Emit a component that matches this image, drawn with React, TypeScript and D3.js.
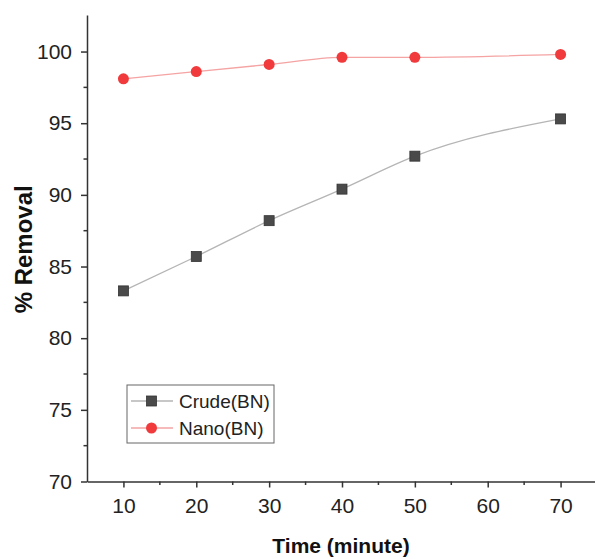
import * as d3 from "d3";
import React, {useEffect, useRef} from "react";

const times = [10, 20, 30, 40, 50, 70];
const crude = [83.3, 85.7, 88.2, 90.4, 92.7, 95.3];
const nano = [98.1, 98.6, 99.1, 99.6, 99.6, 99.8];
const xTicks = [10, 20, 30, 40, 50, 60, 70];
const yTicks = [70, 75, 80, 85, 90, 95, 100];

const App: React.FC = () => {
  const svgRef = useRef<SVGSVGElement | null>(null);

  useEffect(() => {
    if (!svgRef.current) {
      return
    }
    document.body.style.margin = '0';
    const svg = d3.select(svgRef.current);
    svg.selectAll('*').remove();

    const font = 'Liberation Sans, Arial, sans-serif';
    const axisColor = '#333';

    const x = d3.scaleLinear().domain([5, 75]).range([87, 597]);
    const y = d3.scaleLinear().domain([70, 102.55]).range([481.5, 15]);

    // axes
    const xAxis = svg.append('g')
      .attr('transform', `translate(0,${y(70)})`)
      .call(d3.axisBottom(x).tickValues(xTicks).tickSize(6).tickSizeOuter(0).tickPadding(11));
    xAxis.select('.domain').attr('stroke', axisColor).attr('stroke-width', 1.5);
    xAxis.selectAll('.tick line').attr('stroke', axisColor).attr('stroke-width', 1.5);
    xAxis.selectAll('.tick text').attr('font-family', font).attr('font-size', 21).attr('fill', '#222');
    xAxis.selectAll('.minor')
      .data(d3.range(15, 75, 10))
      .enter().append('line')
      .attr('x1', d => x(d)).attr('x2', d => x(d))
      .attr('y1', 0).attr('y2', 3.5)
      .attr('stroke', axisColor).attr('stroke-width', 1.5);

    const yAxis = svg.append('g')
      .attr('transform', `translate(${x(5)},0)`)
      .call(d3.axisLeft(y).tickValues(yTicks).tickSize(6).tickSizeOuter(0).tickPadding(9));
    yAxis.select('.domain').attr('stroke', axisColor).attr('stroke-width', 1.5);
    yAxis.selectAll('.tick line').attr('stroke', axisColor).attr('stroke-width', 1.5);
    yAxis.selectAll('.tick text').attr('font-family', font).attr('font-size', 21).attr('fill', '#222');
    yAxis.selectAll('.minor')
      .data(d3.range(72.5, 102.5, 5))
      .enter().append('line')
      .attr('x1', 0).attr('x2', -3.5)
      .attr('y1', d => y(d)).attr('y2', d => y(d))
      .attr('stroke', axisColor).attr('stroke-width', 1.5);

    // axis titles
    svg.append('text')
      .attr('x', 341).attr('y', 553)
      .attr('text-anchor', 'middle')
      .attr('font-family', font).attr('font-size', 21).attr('font-weight', 'bold')
      .attr('fill', '#111')
      .text('Time (minute)');
    svg.append('text')
      .attr('transform', `translate(32,${y(86.2)}) rotate(-90)`)
      .attr('text-anchor', 'middle')
      .attr('font-family', font).attr('font-size', 24).attr('font-weight', 'bold')
      .attr('fill', '#111')
      .text('% Removal');

    const line = d3.line<number>()
      .x((_, i) => x(times[i]))
      .y(d => y(d))
      .curve(d3.curveMonotoneX);

    svg.append('path')
      .datum(crude)
      .attr('d', line)
      .attr('fill', 'none')
      .attr('stroke', '#b5b5b5')
      .attr('stroke-width', 1.3);
    svg.append('path')
      .datum(nano)
      .attr('d', line)
      .attr('fill', 'none')
      .attr('stroke', '#f5a3a3')
      .attr('stroke-width', 1.3);

    svg.selectAll('.sq')
      .data(crude)
      .enter().append('rect')
      .attr('x', (_, i) => x(times[i]) - 5)
      .attr('y', d => y(d) - 5)
      .attr('width', 10).attr('height', 10)
      .attr('fill', '#4a4a4a')
      .attr('stroke', '#333').attr('stroke-width', 0.8);
    svg.selectAll('.dot')
      .data(nano)
      .enter().append('circle')
      .attr('cx', (_, i) => x(times[i]))
      .attr('cy', d => y(d))
      .attr('r', 5.5)
      .attr('fill', '#f03a3c');

    // legend
    const lg = svg.append('g').attr('transform', 'translate(127,385)');
    lg.append('rect')
      .attr('width', 147).attr('height', 58)
      .attr('fill', '#fff').attr('stroke', '#666').attr('stroke-width', 1);
    lg.append('line').attr('x1', 4).attr('x2', 46).attr('y1', 16).attr('y2', 16)
      .attr('stroke', '#b5b5b5').attr('stroke-width', 1.3);
    lg.append('rect').attr('x', 19.5).attr('y', 11).attr('width', 10).attr('height', 10)
      .attr('fill', '#4a4a4a').attr('stroke', '#333').attr('stroke-width', 0.8);
    lg.append('line').attr('x1', 4).attr('x2', 46).attr('y1', 43).attr('y2', 43)
      .attr('stroke', '#f5a3a3').attr('stroke-width', 1.3);
    lg.append('circle').attr('cx', 24.5).attr('cy', 43).attr('r', 5.5).attr('fill', '#f03a3c');
    lg.append('text').attr('x', 52).attr('y', 23)
      .attr('font-family', font).attr('font-size', 19).attr('fill', '#222')
      .text('Crude(BN)');
    lg.append('text').attr('x', 52).attr('y', 50)
      .attr('font-family', font).attr('font-size', 19).attr('fill', '#222')
      .text('Nano(BN)');
  }, []);

  return (
    <svg
      ref={svgRef}
      width={595}
      height={559}
      style={{display: 'block', background: '#fff'}}
    />
  );
}

export default App;
